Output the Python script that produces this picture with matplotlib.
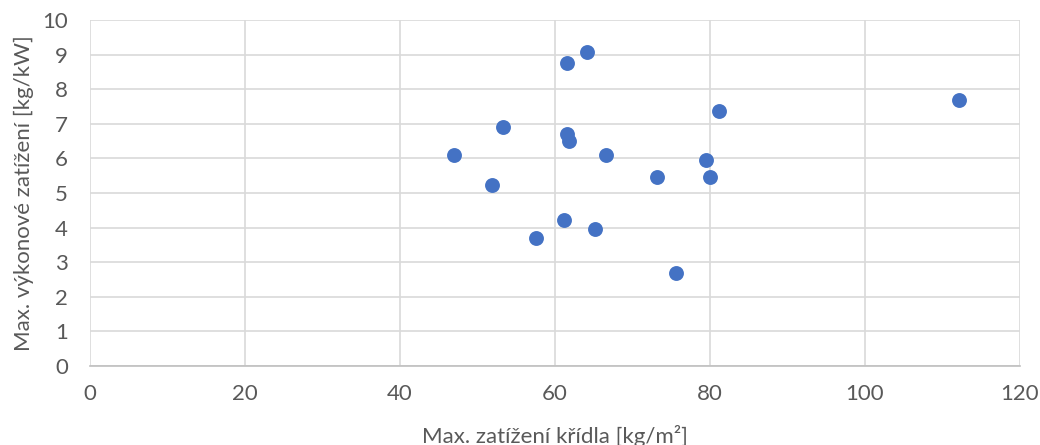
import matplotlib.pyplot as plt

# data
wing_load = [47.0, 51.9, 53.3, 57.6, 61.1, 61.5, 61.5, 61.8, 64.1, 65.1,
             66.6, 73.2, 75.6, 79.5, 80.0, 81.2, 112.1]
power_load = [6.09, 5.22, 6.91, 3.69, 4.21, 8.77, 6.71, 6.51, 9.08, 3.97,
              6.09, 5.47, 2.69, 5.95, 5.47, 7.36, 7.68]

x_ticks = [0, 20, 40, 60, 80, 100, 120]
y_ticks = list(range(0, 11))

plt.rcParams['font.family'] = ['Lato', 'DejaVu Sans']

fig = plt.figure(figsize=(10.4, 4.45), dpi=100)
ax = fig.add_axes([90 / 1040, 79 / 445, 930 / 1040, 346 / 445])

ax.scatter(wing_load, power_load, s=115, color="#4472C4", zorder=3,
           linewidths=0)

ax.set_xlim(0, 120)
ax.set_ylim(0, 10)
ax.set_xticks(x_ticks)
ax.set_yticks(y_ticks)
ax.grid(True, color="#D9D9D9", linewidth=1.2)
ax.set_axisbelow(True)

for side in ["top", "right", "left"]:
    ax.spines[side].set_visible(False)
ax.spines["bottom"].set_color("#BFBFBF")
ax.spines["bottom"].set_linewidth(1.2)

ax.tick_params(length=0, labelsize=16, colors="#595959")
ax.tick_params(axis="x", pad=13)
ax.tick_params(axis="y", pad=16)

ax.set_xlabel("Max. zatížení křídla [kg/m²]", fontsize=16, color="#595959",
              labelpad=15)
ax.set_ylabel("Max. výkonové zatížení [kg/kW]", fontsize=16, color="#595959",
              labelpad=6)

fig.savefig("out.png", dpi=100)
